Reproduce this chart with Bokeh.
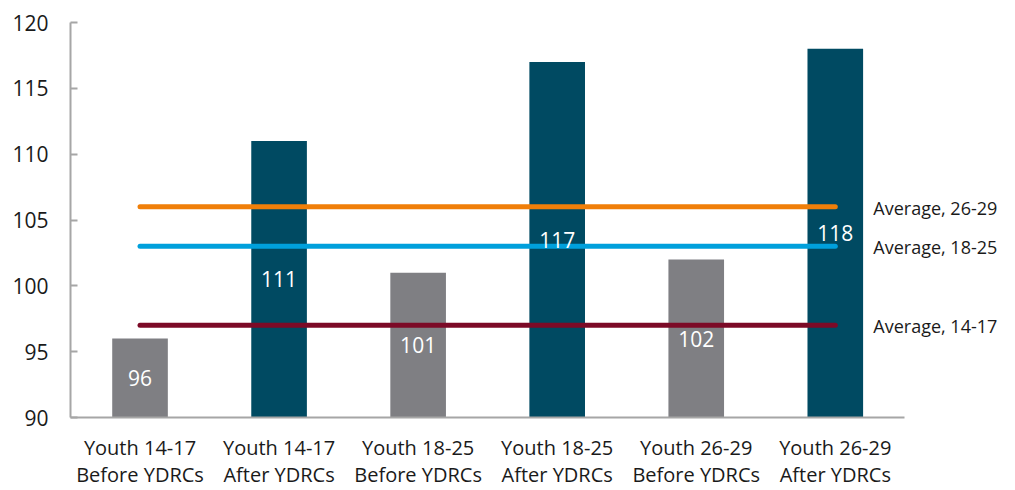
from bokeh.plotting import figure
from bokeh.models import ColumnDataSource, FixedTicker, Range1d
from bokeh.core.properties import value
from bokeh.embed import file_html
from bokeh.resources import INLINE

# Groups and index values
categories = [
    "Youth 14-17\nBefore YDRCs",
    "Youth 14-17\nAfter YDRCs",
    "Youth 18-25\nBefore YDRCs",
    "Youth 18-25\nAfter YDRCs",
    "Youth 26-29\nBefore YDRCs",
    "Youth 26-29\nAfter YDRCs",
]
scores = [96, 111, 101, 117, 102, 118]
bar_colors = ["#7f7f83", "#004a62", "#7f7f83", "#004a62", "#7f7f83", "#004a62"]

# Age-group averages shown as horizontal reference lines
avg_labels = ["Average, 14-17", "Average, 18-25", "Average, 26-29"]
avg_values = [97, 103, 106]
avg_colors = ["#7c0a27", "#00a0dc", "#f07f09"]

y_min, y_max = 90, 120
y_ticks = [90, 95, 100, 105, 110, 115, 120]

FONT = "Open Sans"

# Categories sit at integer positions; the x range runs past the last bar
# so the line names fit inside the plotting frame.
xpos = list(range(len(categories)))
x_start, x_end = -0.5, 6.26

p = figure(
    width=1015,
    height=490,
    output_backend="svg",
    toolbar_location=None,
    min_border_left=70,
    min_border_right=5,
    min_border_top=22,
    min_border_bottom=73,
    x_range=Range1d(x_start, x_end),
    y_range=Range1d(y_min, y_max),
)

bars = ColumnDataSource(dict(
    x=xpos,
    top=scores,
    color=bar_colors,
    mid=[(y_min + s) / 2 for s in scores],
    label=[str(s) for s in scores],
))
p.vbar(x="x", top="top", bottom=y_min, width=0.4, fill_color="color",
       line_color=None, source=bars)

lines = ColumnDataSource(dict(
    x0=[xpos[0]] * len(avg_values),
    x1=[xpos[-1]] * len(avg_values),
    y=avg_values,
    color=avg_colors,
    label=avg_labels,
))
p.segment(x0="x0", y0="y", x1="x1", y1="y", line_color="color",
          line_width=5, line_cap="round", source=lines)

p.text(x="x", y="mid", text="label", source=bars, text_color="white",
       text_font=value(FONT), text_font_size="21px", text_align="center",
       text_baseline="middle")

p.text(x="x1", y="y", text="label", source=lines, x_offset=38, y_offset=1,
       text_color="#1a1a1a", text_font=value(FONT), text_font_size="18px",
       text_align="left", text_baseline="middle")

p.grid.visible = False
p.outline_line_color = None

p.yaxis.ticker = FixedTicker(ticks=y_ticks)
p.yaxis.axis_line_color = "#a6a6a6"
p.yaxis.axis_line_width = 2
p.yaxis.major_tick_line_color = "#a6a6a6"
p.yaxis.major_tick_line_width = 2
p.yaxis.major_tick_in = 7
p.yaxis.major_tick_out = 0
p.yaxis.minor_tick_line_color = None
p.yaxis.major_label_text_font = FONT
p.yaxis.major_label_text_font_size = "21px"
p.yaxis.major_label_text_color = "#1a1a1a"
p.yaxis.major_label_standoff = 22

p.xaxis.ticker = FixedTicker(ticks=xpos)
p.xaxis.major_label_overrides = {i: name for i, name in zip(xpos, categories)}
p.xaxis.bounds = (x_start, xpos[-1] + 0.5)
p.xaxis.axis_line_color = "#a6a6a6"
p.xaxis.axis_line_width = 2
p.xaxis.major_tick_line_color = None
p.xaxis.minor_tick_line_color = None
p.xaxis.major_label_text_font = FONT
p.xaxis.major_label_text_font_size = "20px"
p.xaxis.major_label_text_line_height = 1.0
p.xaxis.major_label_text_color = "#1a1a1a"
p.xaxis.major_label_standoff = 10

open("out.html", "w").write(file_html(p, INLINE))
